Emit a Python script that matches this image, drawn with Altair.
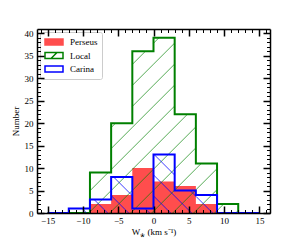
import altair as alt
import pandas as pd

# ---------------- data ----------------
edges = [-15, -12, -9, -6, -3, 0, 3, 6, 9, 12, 15]
series = ["Perseus", "Local", "Carina"]
perseus = [0, 0, 2, 4, 10, 7, 6, 2, 0, 0]
local = [0, 0, 9, 20, 36, 39, 22, 11, 2, 0]
carina = [0, 1, 3, 8, 1, 13, 5, 4, 0, 0]
x_major = [-15, -10, -5, 0, 5, 10, 15]
y_major = [0, 5, 10, 15, 20, 25, 30, 35, 40]
x_minor = list(range(-16, 17))
y_minor = list(range(0, 41))

# ---------------- style ----------------
FONT = "Liberation Serif"
X_DOMAIN = [-16.5, 16.5]
Y_DOMAIN = [0, 40.95]
W, H = 233, 184
RED = "#ff4d4d"
GREEN = "#008000"
BLUE = "#0000ff"
PX = W / (X_DOMAIN[1] - X_DOMAIN[0])
PY = H / (Y_DOMAIN[1] - Y_DOMAIN[0])

xs = alt.Scale(domain=X_DOMAIN, nice=False, zero=False)
ys = alt.Scale(domain=Y_DOMAIN, nice=False, zero=False)


def step_df(counts):
    return pd.DataFrame({"x": edges, "y": list(counts) + [counts[-1]]})


def hatch_df(counts, direction, spacing, phase):
    rows = []
    for i, h in enumerate(counts):
        if h <= 0:
            continue
        u0 = (edges[i] - X_DOMAIN[0]) * PX
        u1 = (edges[i + 1] - X_DOMAIN[0]) * PX
        vh = h * PY
        for k in range(-60, 60):
            c = phase + k * spacing
            if direction == 1:
                a, b = max(u0, c), min(u1, c + vh)
                if b <= a:
                    continue
                va, vb = a - c, b - c
            else:
                a, b = max(u0, c - vh), min(u1, c)
                if b <= a:
                    continue
                va, vb = c - a, c - b
            rows.append({"x": a / PX + X_DOMAIN[0], "y": va / PY,
                         "x2": b / PX + X_DOMAIN[0], "y2": vb / PY})
    return pd.DataFrame(rows)


def ax(orient, **kw):
    base = dict(orient=orient, grid=False, labels=False, ticks=False,
                domain=False, title=None, zindex=1)
    base.update(kw)
    return alt.Axis(**base)


dom = dict(domain=True, domainColor="black", domainWidth=1.5)
maj = lambda v: dict(ticks=True, values=v, tickSize=7, tickWidth=1.5,
                     tickColor="black", offset=-7)
mnr = lambda v: dict(ticks=True, values=v, tickSize=3.5, tickWidth=1,
                     tickColor="black", offset=-3.5)

axis_pairs = [
    (ax("bottom", labels=True, values=x_major, labelPadding=3,
        labelFont=FONT, labelFontSize=9, labelColor="black",
        title="W⁎ (km s⁻¹)", titleFont=FONT, titleFontSize=9,
        titleFontWeight="normal", titleColor="black", titlePadding=2, **dom),
     ax("left", labels=True, values=y_major, labelPadding=4,
        labelFont=FONT, labelFontSize=9, labelColor="black",
        title="Number", titleFont=FONT, titleFontSize=9,
        titleFontWeight="normal", titleColor="black", titlePadding=4, **dom)),
    (ax("bottom", **maj(x_major)), ax("left", **maj(y_major))),
    (ax("bottom", **mnr(x_minor)), ax("left", **mnr(y_minor))),
    (ax("top", **dom), ax("right", **dom)),
    (ax("top", **maj(x_major)), ax("right", **maj(y_major))),
    (ax("top", **mnr(x_minor)), ax("right", **mnr(y_minor))),
]

pers_df = step_df(perseus)
local_df = step_df(local)
car_df = step_df(carina)

layers = []

layers.append(alt.Chart(pers_df).mark_area(interpolate="step-after", color=RED).encode(
    x=alt.X("x:Q", scale=xs, axis=None), y=alt.Y("y:Q", scale=ys, axis=None)))

layers.append(alt.Chart(hatch_df(local, 1, 21, 9.7)).mark_rule(
    color=GREEN, strokeWidth=0.9, opacity=0.75).encode(
    x=alt.X("x:Q", scale=xs, axis=None), y=alt.Y("y:Q", scale=ys, axis=None),
    x2="x2:Q", y2="y2:Q"))

layers.append(alt.Chart(local_df).mark_line(interpolate="step-after", color=GREEN,
                                            strokeWidth=2).encode(
    x=alt.X("x:Q", scale=xs, axis=None), y=alt.Y("y:Q", scale=ys, axis=None)))

layers.append(alt.Chart(hatch_df(carina, -1, 21, 7.6)).mark_rule(
    color=BLUE, strokeWidth=0.9, opacity=0.85).encode(
    x=alt.X("x:Q", scale=xs, axis=None), y=alt.Y("y:Q", scale=ys, axis=None),
    x2="x2:Q", y2="y2:Q"))

layers.append(alt.Chart(car_df).mark_line(interpolate="step-after", color=BLUE,
                                          strokeWidth=2).encode(
    x=alt.X("x:Q", scale=xs, axis=None), y=alt.Y("y:Q", scale=ys, axis=None)))

for xa, ya in axis_pairs:
    layers.append(alt.Chart(pers_df).mark_point(opacity=0).encode(
        x=alt.X("x:Q", scale=xs, axis=xa), y=alt.Y("y:Q", scale=ys, axis=ya)))

# legend
rect = "M-1.8,-0.6L1.8,-0.6L1.8,0.6L-1.8,0.6Z"
legend = alt.Legend(title=None, orient="top-left", offset=3, padding=4,
                    fillColor="white", strokeColor="#cccccc", cornerRadius=2,
                    labelFont=FONT, labelFontSize=9, labelColor="black",
                    symbolSize=100, symbolStrokeWidth=1.5, symbolOpacity=1,
                    symbolOffset=4, labelOffset=10, rowPadding=1.5)
leg_df = pd.DataFrame({"series": series})
layers.append(alt.Chart(leg_df).mark_point(opacity=0, size=100).encode(
    x=alt.value(0), y=alt.value(0),
    fill=alt.Fill("series:N", sort=series, legend=legend,
                  scale=alt.Scale(domain=series, range=[RED, "transparent", "transparent"])),
    stroke=alt.Stroke("series:N", sort=series, legend=legend,
                      scale=alt.Scale(domain=series, range=[RED, GREEN, BLUE])),
    shape=alt.Shape("series:N", sort=series, legend=legend,
                    scale=alt.Scale(domain=series,
                                    range=[rect, rect + " M-0.6,0.6L0.6,-0.6", rect])),
))

chart = alt.layer(*layers).resolve_axis(x="independent", y="independent").properties(
    width=W, height=H,
    padding={"left": 29, "top": 21, "right": 22, "bottom": 27},
    autosize="none",
    background="white",
).configure_view(stroke=None)

chart.save("out.html", embed_options={"renderer": "svg", "actions": False})
